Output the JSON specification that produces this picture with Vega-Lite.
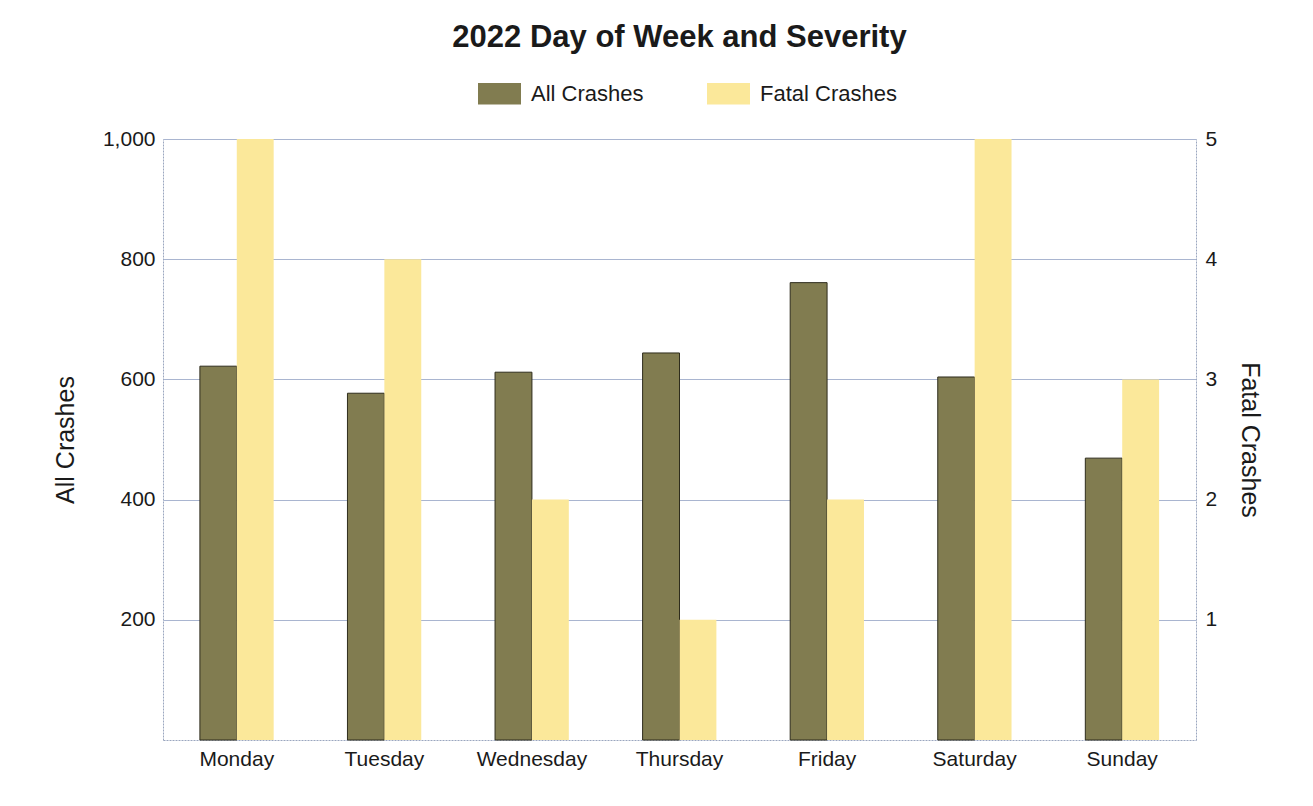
{
  "$schema": "https://vega.github.io/schema/vega-lite/v6.json",
  "autosize": "none",
  "width": 1033,
  "height": 601,
  "padding": {"left": 163, "top": 139, "right": 117, "bottom": 66},
  "background": "white",
  "config": {
    "font": "Liberation Sans",
    "view": {"stroke": null}
  },
  "title": {
    "text": "2022 Day of Week and Severity",
    "fontSize": 31,
    "fontWeight": "bold",
    "font": "Liberation Sans",
    "color": "#1a1a1a",
    "anchor": "middle",
    "frame": "group",
    "offset": 18
  },
  "data": {
    "values": [
      {"day": "Monday", "series": "All Crashes", "value": 622},
      {"day": "Tuesday", "series": "All Crashes", "value": 577},
      {"day": "Wednesday", "series": "All Crashes", "value": 612},
      {"day": "Thursday", "series": "All Crashes", "value": 644},
      {"day": "Friday", "series": "All Crashes", "value": 761},
      {"day": "Saturday", "series": "All Crashes", "value": 604},
      {"day": "Sunday", "series": "All Crashes", "value": 469},
      {"day": "Monday", "series": "Fatal Crashes", "value": 5},
      {"day": "Tuesday", "series": "Fatal Crashes", "value": 4},
      {"day": "Wednesday", "series": "Fatal Crashes", "value": 2},
      {"day": "Thursday", "series": "Fatal Crashes", "value": 1},
      {"day": "Friday", "series": "Fatal Crashes", "value": 2},
      {"day": "Saturday", "series": "Fatal Crashes", "value": 5},
      {"day": "Sunday", "series": "Fatal Crashes", "value": 3}
    ]
  },
  "encoding": {
    "x": {
      "field": "day",
      "type": "nominal",
      "sort": ["Monday", "Tuesday", "Wednesday", "Thursday", "Friday", "Saturday", "Sunday"],
      "scale": {"paddingInner": 0.5, "paddingOuter": 0.25},
      "axis": {
        "title": null,
        "labelAngle": 0,
        "labelFontSize": 21,
        "labelColor": "#1a1a1a",
        "labelPadding": 8,
        "ticks": false,
        "domainColor": "#9aa6bf",
        "domainDash": [2, 1],
        "domainWidth": 1
      }
    },
    "xOffset": {
      "field": "series",
      "type": "nominal",
      "scale": {"domain": ["All Crashes", "Fatal Crashes"], "paddingInner": 0, "paddingOuter": 0}
    },
    "color": {
      "field": "series",
      "type": "nominal",
      "scale": {"domain": ["All Crashes", "Fatal Crashes"], "range": ["#817c50", "#fbe89a"]},
      "legend": {
        "title": null,
        "orient": "none",
        "legendX": 315,
        "legendY": -67,
        "direction": "horizontal",
        "labelFontSize": 22,
        "labelColor": "#1a1a1a",
        "symbolType": "M-1,-0.5H1V0.5H-1Z",
        "symbolSize": 1849,
        "symbolStrokeWidth": 0,
        "symbolOpacity": 1,
        "labelOffset": 10,
        "columnPadding": 63
      }
    }
  },
  "layer": [
    {
      "transform": [{"filter": "datum.series === 'All Crashes'"}],
      "mark": {"type": "bar", "stroke": "#2e2c1c", "strokeWidth": 1},
      "encoding": {
        "y": {
          "field": "value",
          "type": "quantitative",
          "scale": {"domain": [0, 1000], "nice": false},
          "axis": {
            "orient": "left",
            "title": "All Crashes",
            "titleFontSize": 25,
            "titleFontWeight": "normal",
            "titleColor": "#1a1a1a",
            "titlePadding": 24,
            "values": [200, 400, 600, 800, 1000],
            "format": ",.0f",
            "labelFontSize": 21,
            "labelColor": "#1a1a1a",
            "labelPadding": 8,
            "ticks": false,
            "grid": true,
            "gridColor": "#a9b5d0",
            "gridWidth": 1,
            "domainColor": "#9aa6bf",
            "domainDash": [2, 1]
          }
        }
      }
    },
    {
      "transform": [{"filter": "datum.series === 'Fatal Crashes'"}],
      "mark": {"type": "bar"},
      "encoding": {
        "y": {
          "field": "value",
          "type": "quantitative",
          "scale": {"domain": [0, 5], "nice": false},
          "axis": {
            "orient": "right",
            "title": "Fatal Crashes",
            "titleFontSize": 25,
            "titleFontWeight": "normal",
            "titleColor": "#1a1a1a",
            "titlePadding": 20,
            "values": [1, 2, 3, 4, 5],
            "labelFontSize": 21,
            "labelColor": "#1a1a1a",
            "labelPadding": 9,
            "ticks": false,
            "grid": false,
            "domainColor": "#9aa6bf",
            "domainDash": [2, 1]
          }
        }
      }
    }
  ],
  "resolve": {"scale": {"y": "independent"}}
}
